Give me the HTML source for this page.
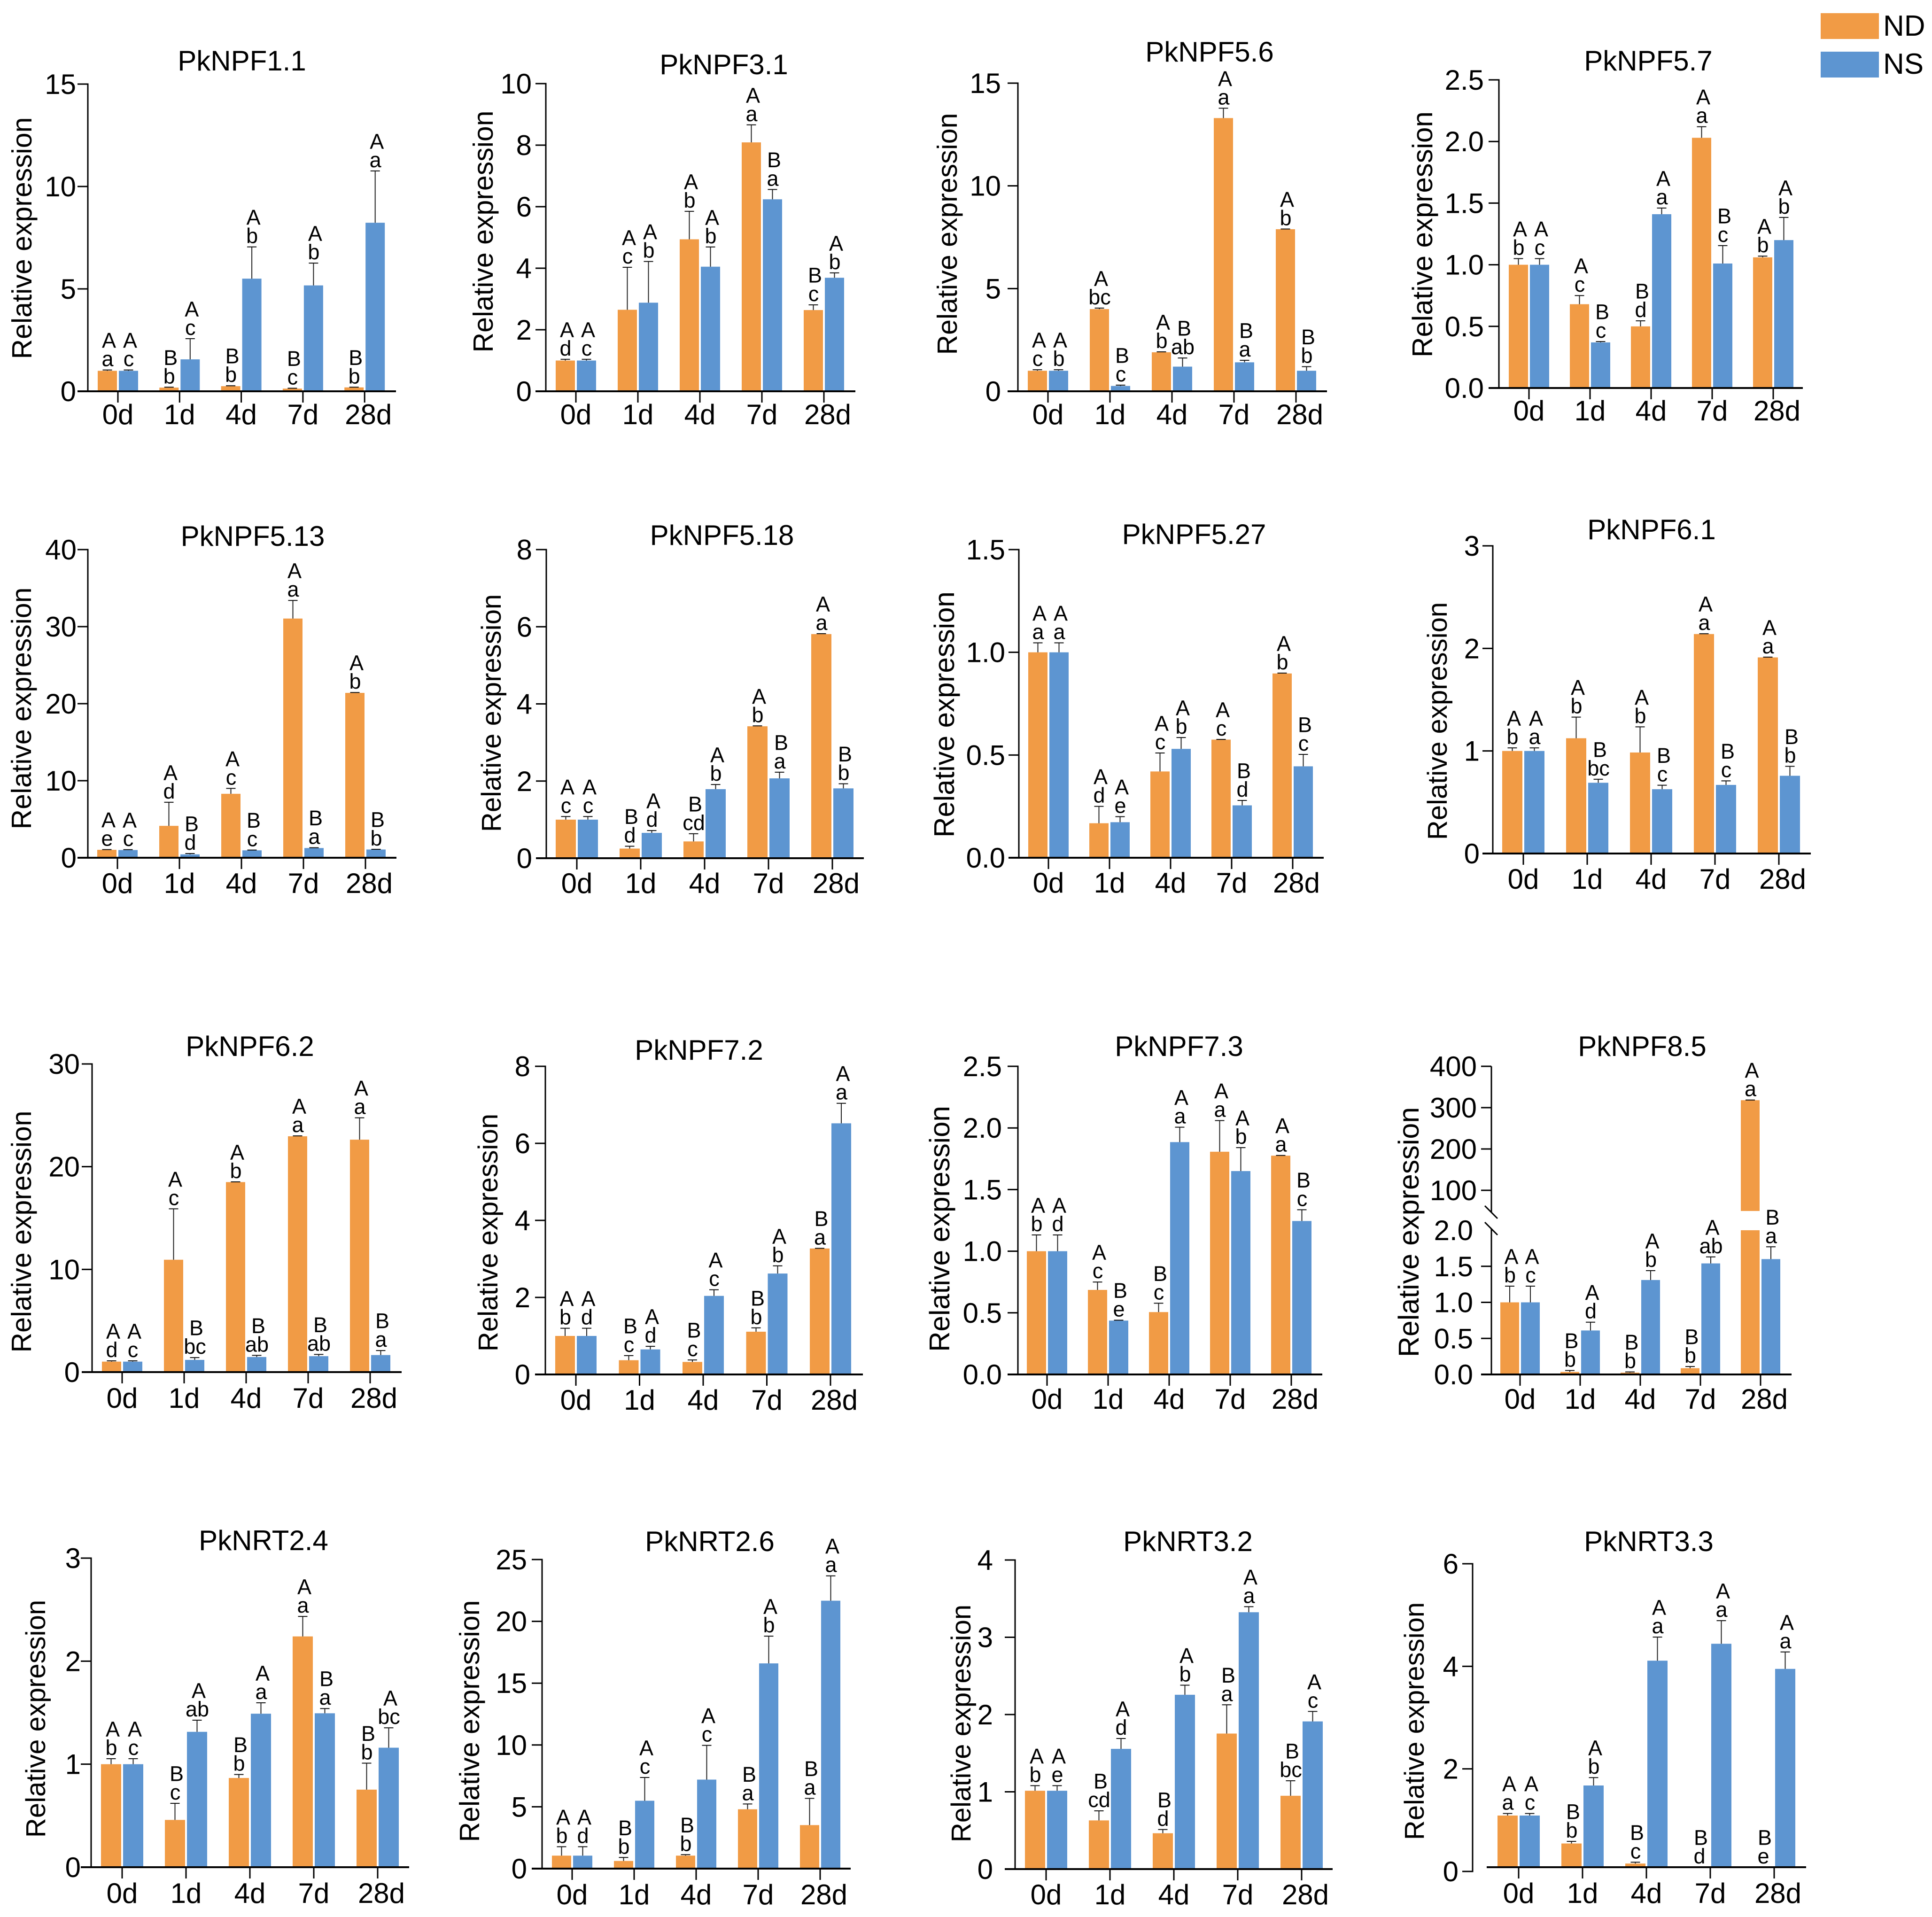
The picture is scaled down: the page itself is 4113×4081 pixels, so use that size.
<!DOCTYPE html>
<html lang="en">
<head>
<meta charset="utf-8">
<title>Relative expression of PkNPF and PkNRT genes</title>
<style>
html,body{margin:0;padding:0;background:#fff}
svg{display:block;font-family:"Liberation Sans",Arial,sans-serif;fill:#000}
</style>
</head>
<body>
<svg id="figure" xmlns="http://www.w3.org/2000/svg" width="4113" height="4081" viewBox="0 0 4113 4081">
  <rect x="0" y="0" width="4113" height="4081" fill="#ffffff"/>
  <g>
    <rect x="3876" y="28" width="124" height="55" fill="#f19b45"/>
    <text x="4009" y="76" font-size="62">ND</text>
    <rect x="3876" y="110" width="124" height="55" fill="#5d95d1"/>
    <text x="4009" y="157" font-size="62">NS</text>
  </g>
</svg>
<script>
const categories = ["0d","1d","4d","7d","28d"];
const geneTitles = ["PkNPF1.1","PkNPF3.1","PkNPF5.6","PkNPF5.7","PkNPF5.13","PkNPF5.18","PkNPF5.27","PkNPF6.1","PkNPF6.2","PkNPF7.2","PkNPF7.3","PkNPF8.5","PkNRT2.4","PkNRT2.6","PkNRT3.2","PkNRT3.3"];
const yTickLabels = [
  ["0","5","10","15"],
  ["0","2","4","6","8","10"],
  ["0","5","10","15"],
  ["0.0","0.5","1.0","1.5","2.0","2.5"],
  ["0","10","20","30","40"],
  ["0","2","4","6","8"],
  ["0.0","0.5","1.0","1.5"],
  ["0","1","2","3"],
  ["0","10","20","30"],
  ["0","2","4","6","8"],
  ["0.0","0.5","1.0","1.5","2.0","2.5"],
  ["0.0","0.5","1.0","1.5","2.0","100","200","300","400"],
  ["0","1","2","3"],
  ["0","5","10","15","20","25"],
  ["0","1","2","3","4"],
  ["0","2","4","6"]
];
const ndValues = [
  [1,.18,.25,.13,.19],
  [1,2.65,4.94,8.09,2.64],
  [1,4,1.9,13.3,7.89],
  [1,.68,.5,2.03,1.06],
  [1.03,4.14,8.3,31.05,21.4],
  [1,.25,.435,3.42,5.81],
  [1,.168,.42,.575,.897],
  [1,1.124,.985,2.14,1.912],
  [1.02,10.94,18.5,22.96,22.63],
  [1,.37,.325,1.11,3.27],
  [1,.686,.506,1.807,1.775],
  [1,.035,.025,.087,318],
  [1,.459,.866,2.24,.753],
  [1.05,.62,1.05,4.8,3.52],
  [1.014,.63,.464,1.754,.949],
  [1.09,.545,.154,0,0]
];
const ndErrors = [
  [.04,.02,.02,.02,.01],
  [.04,1.38,.91,.57,.17],
  [.05,.05,.02,.48,.01],
  [.05,.07,.045,.09,.01],
  [.03,3.06,.7,2.35,.05],
  [.08,.06,.2,.01,.01],
  [.046,.082,.09,.001,.002],
  [.03,.206,.25,.003,.003],
  [.08,4.96,.02,.04,2.13],
  [.2,.12,.052,.1,.005],
  [.132,.064,.072,.253,.002],
  [.225,.02,.01,.023,.5],
  [.053,.161,.034,.194,.257],
  [.72,.28,.08,.43,2.16],
  [.066,.124,.048,.372,.194],
  [.04,.041,.026,0,0]
];
const nsValues = [
  [1,1.56,5.5,5.17,8.23],
  [1,2.88,4.05,6.24,3.69],
  [1,.26,1.2,1.41,1],
  [1,.37,1.41,1.01,1.2],
  [1,.44,.96,1.26,1.07],
  [1,.657,1.79,2.07,1.81],
  [1,.173,.53,.255,.445],
  [1,.69,.627,.669,.758],
  [1.02,1.19,1.47,1.55,1.66],
  [1,.65,2.04,2.62,6.52],
  [1,.437,1.885,1.65,1.245],
  [1,.61,1.31,1.54,1.6],
  [1,1.314,1.49,1.494,1.16],
  [1.05,5.49,7.2,16.6,21.67],
  [1.014,1.556,2.256,3.324,1.911],
  [1.09,1.676,4.11,4.44,3.95]
];
const nsErrors = [
  [.04,1.01,1.55,1.09,2.53],
  [.04,1.34,.64,.32,.16],
  [.05,.04,.42,.1,.2],
  [.05,.007,.05,.145,.184],
  [.05,.11,.04,.04,.03],
  [.08,.06,.12,.16,.12],
  [.046,.027,.055,.024,.058],
  [.03,.034,.039,.039,.092],
  [.08,.22,.16,.17,.44],
  [.2,.08,.16,.2,.52],
  [.132,.003,.121,.19,.091],
  [.225,.115,.13,.09,.17],
  [.053,.113,.106,.046,.193],
  [.72,1.88,2.77,2.2,2.01],
  [.066,.134,.124,.072,.129],
  [.04,.154,.46,.45,.33]
];
const ndLetters = [
  ["Aa","Bb","Bb","Bc","Bb"],
  ["Ad","Ac","Ab","Aa","Bc"],
  ["Ac","Abc","Ab","Aa","Ab"],
  ["Ab","Ac","Bd","Aa","Ab"],
  ["Ae","Ad","Ac","Aa","Ab"],
  ["Ac","Bd","Bcd","Ab","Aa"],
  ["Aa","Ad","Ac","Ac","Ab"],
  ["Ab","Ab","Ab","Aa","Aa"],
  ["Ad","Ac","Ab","Aa","Aa"],
  ["Ab","Bc","Bc","Bb","Ba"],
  ["Ab","Ac","Bc","Aa","Aa"],
  ["Ab","Bb","Bb","Bb","Aa"],
  ["Ab","Bc","Bb","Aa","Bb"],
  ["Ab","Bb","Bb","Ba","Ba"],
  ["Ab","Bcd","Bd","Ba","Bbc"],
  ["Aa","Bb","Bc","Bd","Be"]
];
const nsLetters = [
  ["Ac","Ac","Ab","Ab","Aa"],
  ["Ac","Ab","Ab","Ba","Ab"],
  ["Ab","Bc","Bab","Ba","Bb"],
  ["Ac","Bc","Aa","Bc","Ab"],
  ["Ac","Bd","Bc","Ba","Bb"],
  ["Ac","Ad","Ab","Ba","Bb"],
  ["Aa","Ae","Ab","Bd","Bc"],
  ["Aa","Bbc","Bc","Bc","Bb"],
  ["Ac","Bbc","Bab","Bab","Ba"],
  ["Ad","Ad","Ac","Ab","Aa"],
  ["Ad","Be","Aa","Ab","Bc"],
  ["Ac","Ad","Ab","Aab","Ba"],
  ["Ac","Aab","Aa","Ba","Abc"],
  ["Ad","Ac","Ac","Ab","Aa"],
  ["Ae","Ad","Ab","Aa","Ac"],
  ["Ac","Ab","Aa","Aa","Aa"]
];

/* Page layout of each panel, separate from the data above. */
const panelLayouts = [
  {ax:187,top:179,y0:833,xEnd:843,x0:251,step:131.3,tx:515,ty:150,yx:67,yy:507,yf:59,gap:25,xl:70},
  {ax:1162,top:178,y0:833,xEnd:1821,x0:1226,step:132,tx:1541,ty:158,yx:1049,yy:493,yf:59,gap:30,xl:70},
  {ax:2167,top:177,y0:833,xEnd:2825,x0:2231,step:132,tx:2575,ty:131,yx:2037,yy:498,yf:59,gap:36,xl:70},
  {ax:3191,top:170,y0:826,xEnd:3838,x0:3255,step:130,tx:3509,ty:150,yx:3049,yy:499,yf:60,gap:32,xl:69},
  {ax:187,top:1170,y0:1826,xEnd:844,x0:250,step:132,tx:538,ty:1162,yx:66,yy:1508,yf:59,gap:24,xl:75},
  {ax:1163,top:1170,y0:1827,xEnd:1839,x0:1228,step:136,tx:1537,ty:1160,yx:1066,yy:1518,yf:58,gap:30,xl:74},
  {ax:2169,top:1170,y0:1826,xEnd:2818,x0:2232,step:130,tx:2542,ty:1158,yx:2031,yy:1521,yf:60,gap:29,xl:74},
  {ax:3178,top:1162,y0:1817,xEnd:3855,x0:3243,step:136,tx:3516,ty:1148,yx:3080,yy:1535,yf:58,gap:28,xl:75},
  {ax:196,top:2265,y0:2921,xEnd:855,x0:260,step:132,tx:532,ty:2248,yx:66,yy:2622,yf:59,gap:26,xl:76},
  {ax:1161,top:2270,y0:2926,xEnd:1837,x0:1226,step:135.5,tx:1488,ty:2256,yx:1059,yy:2624,yf:58,gap:32,xl:75},
  {ax:2167,top:2270,y0:2926,xEnd:2815,x0:2229,step:130,tx:2510,ty:2248,yx:2021,yy:2616,yf:60,gap:34,xl:73},
  {ax:3175,top:2270,y0:2926,xEnd:3814,x0:3236,step:128,tx:3496,ty:2248,yx:3020,yy:2623,yf:61,gap:31,xl:73,
    brk:{lowMax:2,lowTop:2619,highMin:50,highBottom:2578,highMax:400,lowGap:39}},
  {ax:194,top:3317,y0:3975,xEnd:871,x0:260,step:136,tx:561,ty:3300,yx:96,yy:3659,yf:58,gap:22,xl:76},
  {ax:1154,top:3320,y0:3978,xEnd:1811,x0:1218,step:132,tx:1511,ty:3302,yx:1020,yy:3664,yf:59,gap:32,xl:76},
  {ax:2161,top:3321,y0:3979,xEnd:2837,x0:2227,step:136,tx:2529,ty:3302,yx:2066,yy:3669,yf:58,gap:47,xl:75},
  {ax:3135,top:3329,y0:3984,xEnd:3845,x0:3233,step:136,tx:3510,ty:3302,yx:3031,yy:3664,yf:58,gap:30,xl:76,axisY:3975,axisStart:3165}
];

const NS_URI = "http://www.w3.org/2000/svg";
const ND_COLOR = "#f19b45";
const NS_COLOR = "#5d95d1";
const figure = document.getElementById("figure");

function make(tag, parent, attrs, content) {
  const el = document.createElementNS(NS_URI, tag);
  for (const k in attrs) el.setAttribute(k, attrs[k]);
  if (content !== undefined) el.textContent = content;
  parent.appendChild(el);
  return el;
}

function makeYScale(layout, tickLabels) {
  const ymax = Math.max.apply(null, tickLabels.map(Number));
  if (layout.brk) {
    const b = layout.brk;
    return function (v) {
      if (v <= b.lowMax) return layout.y0 - (v / b.lowMax) * (layout.y0 - b.lowTop);
      return b.highBottom - ((v - b.highMin) / (b.highMax - b.highMin)) * (b.highBottom - layout.top);
    };
  }
  return function (v) { return layout.y0 - (v / ymax) * (layout.y0 - layout.top); };
}

function drawBar(g, layout, yScale, cx, w, value, color, series) {
  const baseY = layout.axisY || layout.y0;
  const b = layout.brk;
  if (b && value > b.lowMax) {
    const lower = make("rect", g, {x: cx - w / 2, y: b.lowTop, width: w, height: layout.y0 - b.lowTop, fill: color});
    
    
    const upper = make("rect", g, {x: cx - w / 2, y: yScale(value), width: w, height: b.highBottom - yScale(value), fill: color});
    
    
    return;
  }
  const top = Math.min(yScale(value), baseY);
  const bar = make("rect", g, {x: cx - w / 2, y: top, width: w, height: baseY - top, fill: color});
  
  
}

function drawError(g, yScale, cx, value, sd, series) {
  if (sd <= 0) return;
  const yA = yScale(value), yB = yScale(value + sd);
  const stem = make("line", g, {x1: cx, x2: cx, y1: yA, y2: yB, stroke: "#222", "stroke-width": 2});
  
  
  const cap = make("line", g, {x1: cx - 10, x2: cx + 10, y1: yB, y2: yB, stroke: "#111", "stroke-width": 2});
  
  
}

function drawLetters(g, layout, yScale, cx, value, sd, letters, series) {
  const baseY = layout.axisY || layout.y0;
  const topY = Math.min(yScale(value + sd), baseY);
  const lowerY = topY - 8;
  const low = make("text", g, {x: cx + 0.5, y: lowerY, "font-size": 45, "text-anchor": "middle"}, letters.slice(1));
  
  
  const up = make("text", g, {x: cx + 3.5, y: lowerY - 39.5, "font-size": 45, "text-anchor": "middle"}, letters.charAt(0));
  
  
}

function drawPanel(p) {
  const f = panelLayouts[p];
  const labels = yTickLabels[p];
  const yScale = makeYScale(f, labels);
  const axisY = f.axisY || f.y0;
  const tickLeft = f.ax - 22;
  const panel = make("g", figure, {});
  
  

  const title = make("text", panel, {x: f.tx, y: f.ty, "font-size": 60, "text-anchor": "middle"}, geneTitles[p]);
  
  

  const yTitle = make("text", panel, {
    x: 0, y: 0, "font-size": f.yf, "text-anchor": "middle",
    transform: "translate(" + f.yx + "," + f.yy + ") rotate(-90)"
  }, "Relative expression");
  
  

  const w = Math.round(f.step * 0.313);
  categories.forEach(function (cat, i) {
    const c = f.x0 + i * f.step;
    const cxNd = c - 2 - w / 2;
    const cxNs = c + 2 + w / 2;
    drawBar(panel, f, yScale, cxNd, w, ndValues[p][i], ND_COLOR, "nd");
    drawBar(panel, f, yScale, cxNs, w, nsValues[p][i], NS_COLOR, "ns");
    drawError(panel, yScale, cxNd, ndValues[p][i], ndErrors[p][i], "nd");
    drawError(panel, yScale, cxNs, nsValues[p][i], nsErrors[p][i], "ns");
    drawLetters(panel, f, yScale, cxNd, ndValues[p][i], ndErrors[p][i], ndLetters[p][i], "nd");
    drawLetters(panel, f, yScale, cxNs, nsValues[p][i], nsErrors[p][i], nsLetters[p][i], "ns");

    const tick = make("line", panel, {x1: c, x2: c, y1: axisY, y2: axisY + 24, stroke: "#000", "stroke-width": 3});
    
    
    const shift = cat.length > 2 ? 8 : 0;
    const lab = make("text", panel, {x: c + shift, y: axisY + f.xl, "font-size": 60, "text-anchor": "middle"}, cat);
    
    
  });

  const xAxis = make("line", panel, {x1: f.axisStart || tickLeft, x2: f.xEnd, y1: axisY, y2: axisY, stroke: "#000", "stroke-width": 4});
  
  

  if (f.brk) {
    const upperAxis = make("line", panel, {x1: f.ax, x2: f.ax, y1: f.top, y2: 2580, stroke: "#000", "stroke-width": 3});
    
    
    const lowerAxis = make("line", panel, {x1: f.ax, x2: f.ax, y1: 2616, y2: f.y0, stroke: "#000", "stroke-width": 3});
    
    
    const slashA = make("line", panel, {x1: f.ax - 14, x2: f.ax + 13, y1: 2567, y2: 2594, stroke: "#000", "stroke-width": 3});
    
    
    const slashB = make("line", panel, {x1: f.ax - 14, x2: f.ax + 13, y1: 2602, y2: 2629, stroke: "#000", "stroke-width": 3});
    
    
  } else {
    const yAxis = make("line", panel, {x1: f.ax, x2: f.ax, y1: f.top - 1.5, y2: f.y0 + 1.5, stroke: "#000", "stroke-width": 3});
    
    
  }

  labels.forEach(function (label) {
    const v = Number(label);
    const y = yScale(v);
    const isBreakEdge = f.brk && v === f.brk.lowMax;
    if (!isBreakEdge && !(v === 0 && axisY === f.y0)) {
      const tick = make("line", panel, {x1: tickLeft, x2: f.ax, y1: y, y2: y, stroke: "#000", "stroke-width": 3});
      
      
    }
    const g = (f.brk && v <= f.brk.lowMax) ? f.brk.lowGap : f.gap;
    const txt = make("text", panel, {x: f.ax - g, y: y + 21, "font-size": 60, "text-anchor": "end"}, label);
    
    
  });
}

geneTitles.forEach(function (_, p) { drawPanel(p); });
</script>
</body>
</html>
